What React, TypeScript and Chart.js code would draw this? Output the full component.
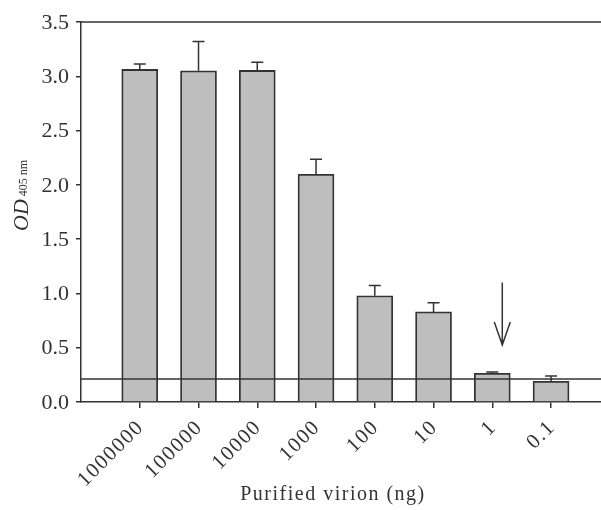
import React, { useEffect, useRef } from "react";
import { Chart, registerables } from "chart.js";

Chart.register(...registerables);

const categories = ["1000000", "100000", "10000", "1000", "100", "10", "1", "0.1"];
const meanOD = [3.063, 3.05, 3.054, 2.097, 0.979, 0.83, 0.264, 0.19];
const errorOD = [0.05, 0.27, 0.075, 0.14, 0.095, 0.085, 0.012, 0.05];
const yTickValues = [0, 0.5, 1.0, 1.5, 2.0, 2.5, 3.0, 3.5];
const cutoffOD = 0.212;
const arrowX = 7.17;
const arrowFrom = 1.1;
const arrowTo = 0.525;

const INK = "#333333";
const SERIF = "'Liberation Serif', 'Times New Roman', serif";

const overlayPlugin = {
  id: "overlay",
  afterDatasetsDraw(chart: any) {
    const ctx = chart.ctx as CanvasRenderingContext2D;
    const area = chart.chartArea;
    const xs = chart.scales.x;
    const ys = chart.scales.y;
    ctx.save();
    ctx.strokeStyle = INK;
    ctx.fillStyle = INK;
    ctx.lineWidth = 1.5;

    // top frame line
    ctx.beginPath();
    ctx.moveTo(area.left, area.top);
    ctx.lineTo(area.right, area.top);
    ctx.stroke();

    // cutoff line
    const cy = ys.getPixelForValue(cutoffOD);
    ctx.beginPath();
    ctx.moveTo(area.left, cy);
    ctx.lineTo(area.right, cy);
    ctx.stroke();

    // error bars
    categories.forEach((_, i) => {
      const x = xs.getPixelForValue(i + 1);
      const y0 = ys.getPixelForValue(meanOD[i]);
      const y1 = ys.getPixelForValue(meanOD[i] + errorOD[i]);
      ctx.beginPath();
      ctx.moveTo(x, y0);
      ctx.lineTo(x, y1);
      ctx.moveTo(x - 6, y1);
      ctx.lineTo(x + 6, y1);
      ctx.stroke();
    });

    // arrow
    const ax = xs.getPixelForValue(arrowX);
    const ay0 = ys.getPixelForValue(arrowFrom);
    const ay1 = ys.getPixelForValue(arrowTo);
    ctx.beginPath();
    ctx.moveTo(ax, ay0);
    ctx.lineTo(ax, ay1);
    ctx.moveTo(ax - 8, ay1 - 23);
    ctx.lineTo(ax, ay1);
    ctx.lineTo(ax + 8, ay1 - 23);
    ctx.stroke();

    // y tick labels
    ctx.font = `22px ${SERIF}`;
    ctx.textAlign = "right";
    ctx.textBaseline = "middle";
    yTickValues.forEach((v) => {
      ctx.fillText(v.toFixed(1), area.left - 12, ys.getPixelForValue(v) + 1);
    });

    // x tick labels
    ctx.font = `21px ${SERIF}`;
    (ctx as any).letterSpacing = "1.5px";
    categories.forEach((c, i) => {
      const x = xs.getPixelForValue(i + 1);
      ctx.save();
      ctx.translate(x + 1, area.bottom + 22);
      ctx.rotate(-Math.PI / 4);
      ctx.textAlign = "right";
      ctx.textBaseline = "middle";
      ctx.fillText(c, 0, 0);
      ctx.restore();
    });

    // x title
    (ctx as any).letterSpacing = "1.5px";
    ctx.font = `20px ${SERIF}`;
    ctx.textAlign = "center";
    ctx.textBaseline = "alphabetic";
    ctx.fillText("Purified virion (ng)", 333, 500);
    (ctx as any).letterSpacing = "0px";

    // y title
    ctx.save();
    ctx.translate(28, 231);
    ctx.rotate(-Math.PI / 2);
    ctx.textAlign = "left";
    ctx.textBaseline = "alphabetic";
    ctx.font = `italic 22px ${SERIF}`;
    ctx.fillText("OD", 0, 0);
    const w = ctx.measureText("OD").width;
    ctx.font = `12px ${SERIF}`;
    ctx.fillText("405 nm", w + 3, -1);
    ctx.restore();

    ctx.restore();
  },
};

export default function App() {
  const ref = useRef<HTMLCanvasElement | null>(null);
  useEffect(() => {
    document.body.style.margin = "0";
    if (!ref.current) return;
    const chart = new Chart(ref.current, {
      type: "bar",
      data: {
        datasets: [
          {
            data: categories.map((_, i) => ({ x: i + 1, y: meanOD[i] })),
            backgroundColor: "#bebebe",
            borderColor: INK,
            borderWidth: 1.8,
            barThickness: 36,
          },
        ],
      },
      options: {
        responsive: false,
        animation: false,
        layout: { padding: { top: 22, left: 0, right: 0, bottom: 0 } },
        plugins: { legend: { display: false }, tooltip: { enabled: false } },
        scales: {
          x: {
            type: "linear",
            offset: false,
            min: 0,
            max: 8.85,
            afterBuildTicks: (s: any) => {
              s.ticks = categories.map((_, i) => ({ value: i + 1 }));
            },
            afterFit: (s: any) => {
              s.height = 108;
            },
            ticks: { display: false },
            grid: { offset: false, drawOnChartArea: false, drawTicks: true, tickLength: 6, color: INK, lineWidth: 1.5 },
            border: { display: true, color: INK, width: 1.5 },
          },
          y: {
            min: 0,
            max: 3.5,
            afterBuildTicks: (s: any) => {
              s.ticks = yTickValues.map((v) => ({ value: v }));
            },
            afterFit: (s: any) => {
              s.width = 81;
            },
            ticks: { display: false },
            grid: { drawOnChartArea: false, drawTicks: true, tickLength: 5, color: INK, lineWidth: 1.5 },
            border: { display: true, color: INK, width: 1.5 },
          },
        },
      } as any,
      plugins: [overlayPlugin],
    });
    return () => chart.destroy();
  }, []);
  return (
    <div style={{ width: 601, height: 510 }}>
      <canvas ref={ref} width={601} height={510} style={{ display: "block" }} />
    </div>
  );
}
